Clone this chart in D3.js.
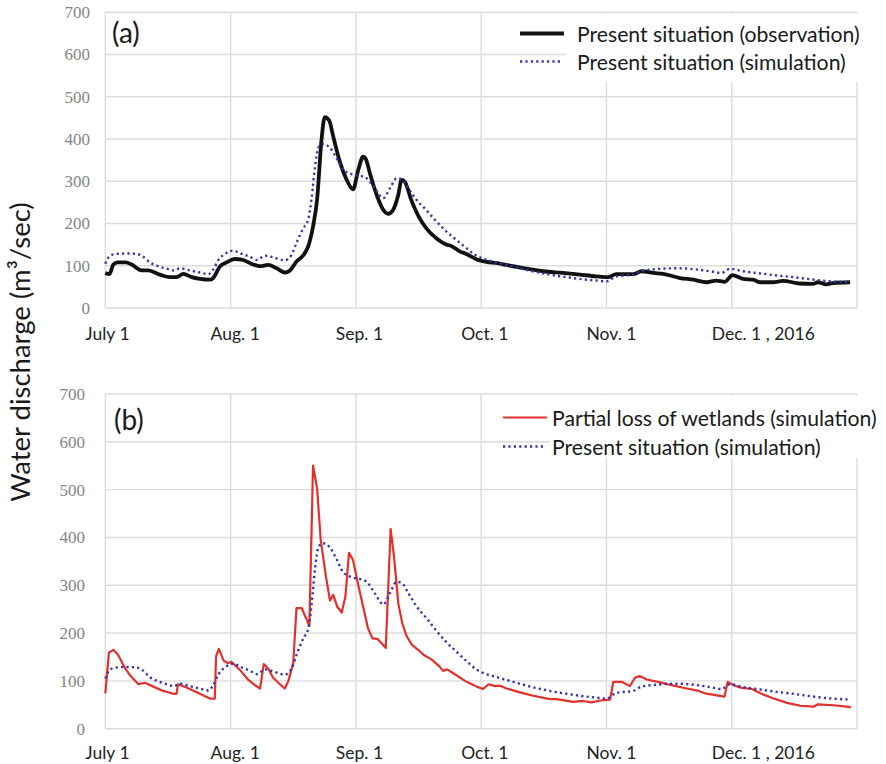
<!DOCTYPE html>
<html>
<head>
<meta charset="utf-8">
<script src="https://cdn.jsdelivr.net/npm/d3@7"></script>
<style>
  body { margin: 0; background: #fff; }
  svg { display: block; }
</style>
</head>
<body>
<div id="chart"></div>
<script>
// days counted from July 1, 2016
const tickDays = [0, 31, 62, 93, 124, 155];
const tickLabels = ["July 1", "Aug. 1", "Sep. 1", "Oct. 1", "Nov. 1", "Dec. 1 , 2016"];
const yTicks = [0, 100, 200, 300, 400, 500, 600, 700];

const obsDays = [0, 1, 2, 3, 5, 6.5, 9, 10.6, 13.5, 16, 17.6, 19.3, 21.4, 23.4, 25.9, 26.7, 28.4, 30, 32, 34,
  36.6, 38.3, 40.3, 42.4, 44.4, 45.7, 47.3, 49, 50.2, 51.4, 52.4, 53.5, 54.3, 55.4, 56.4, 58, 59.7, 61.3, 62.6, 63.8,
  64.5, 65.5, 66.7, 68.8, 70, 71.2, 72.5, 73.3, 74.1, 75.7, 77.8, 79.4, 81.9, 84.4, 85.6, 87.7, 89.3, 92.2, 94.3, 97.1,
  99.2, 102.5, 105, 108.3, 113.2, 117.4, 121.5, 124.5, 126.4, 130.6, 132.7, 135.6, 138, 142.2, 145.5, 148.8, 151.2, 153.3, 155.2, 157.8,
  160.3, 161.9, 165.2, 167.7, 171.8, 175.1, 176.3, 178.4, 180, 184.3];
const obsVals = [83, 80, 103, 108, 108, 103, 89, 89, 79, 73, 73, 81, 73, 69, 67, 71, 99, 108, 116, 114,
  103, 99, 102, 94, 84, 89, 110, 125, 146, 193, 256, 398, 452, 444, 406, 347, 304, 281, 327, 358,
  352, 318, 280, 232, 223, 232, 268, 303, 299, 256, 212, 189, 165, 150, 147, 134, 128, 114, 109, 106,
  102, 96, 92, 87, 83, 79, 75, 73, 80, 80, 87, 83, 81, 71, 67, 61, 65, 62, 78, 69,
  67, 61, 61, 64, 58, 57, 61, 56, 59, 61];

const simDays = [0, 1.2, 2.8, 5.3, 7.7, 9, 11, 13.1, 15.2, 17, 18.5, 20.9, 23.4, 25.5, 26.7, 28, 29.6, 31.7, 33.3, 35.8,
  37.6, 39.5, 41.5, 44.4, 46.1, 47.3, 49, 50.2, 51, 51.9, 52.7, 53.9, 55.6, 57.2, 58.9, 61.3, 63, 64.7, 66.7, 68.8,
  70.4, 72.1, 73.3, 75, 77, 79.4, 81.9, 84.4, 86.9, 89.3, 91.8, 94.3, 96.8, 100.1, 103.4, 106.7, 110, 114.1, 118.2, 121.5,
  124, 126.5, 130.6, 132.7, 136.4, 141.4, 145.5, 149.6, 152.5, 154.6, 157.8, 162, 166.1, 170.2, 174.4, 178.4, 184.2];
const simVals = [105, 124, 128, 129, 128, 124, 108, 99, 93, 89, 94, 89, 84, 80, 91, 114, 128, 136, 130, 121,
  114, 124, 120, 113, 126, 154, 189, 209, 256, 335, 379, 388, 379, 355, 327, 316, 313, 307, 283, 260,
  283, 307, 305, 283, 256, 232, 205, 181, 161, 142, 124, 114, 108, 100, 92, 85, 79, 73, 68, 65,
  63, 75, 79, 88, 92, 94, 92, 87, 83, 93, 87, 82, 77, 73, 68, 64, 61];

const lossDays = [0, 0.9, 2, 3.2, 4.9, 6.1, 8.2, 9.8, 11.9, 14.3, 16.8, 17.6, 18, 20.1, 22.6, 25.9, 27.1, 27.4, 28.1, 29.3,
  30.4, 31.2, 33.3, 35.4, 37, 38.3, 39.2, 40.3, 41.5, 43.2, 44.4, 45.3, 46.5, 47.3, 48.6, 50.5, 51.4, 52.4, 53.3, 54.6,
  55.6, 56.4, 57.4, 58.5, 59.4, 60.3, 61.3, 62.6, 63.8, 65, 66.1, 67.3, 68.3, 69.4, 70.6, 71.4, 72.5, 73.5, 74.5, 75.8,
  77.4, 78.8, 80.7, 82.6, 83.6, 84.6, 86.1, 89.4, 91.9, 93.5, 94.8, 96.4, 97.7, 99.3, 102.6, 105.9, 110, 111.7, 115.8, 118.3,
  120.3, 122.4, 124.9, 125.7, 127.8, 129.8, 131.1, 132.2, 134, 137.3, 140.6, 143.9, 146.8, 148.4, 153.2, 154, 155.5, 157.1, 160, 162.1,
  165.4, 168.7, 172, 175.3, 176.3, 180.2, 184.5];
const lossVals = [74, 159, 165, 154, 126, 112, 93, 96, 88, 79, 73, 73, 93, 86, 76, 63, 63, 151, 167, 142,
  137, 140, 123, 102, 91, 84, 135, 126, 107, 93, 84, 100, 137, 252, 252, 215, 550, 503, 395, 318,
  268, 280, 255, 243, 276, 368, 353, 300, 255, 210, 189, 188, 179, 169, 418, 363, 262, 220, 195, 176,
  165, 154, 145, 131, 121, 124, 116, 98, 88, 83, 93, 89, 90, 84, 76, 69, 62, 62, 56, 58,
  55, 59, 61, 98, 98, 89, 107, 110, 103, 97, 90, 84, 79, 74, 67, 98, 91, 86, 83, 74,
  63, 54, 48, 46, 51, 49, 45];

const width = 886, height = 764;
const plotLeft = 105.3, plotRight = 857;
const gridColor = "#dcdcdc";
const textFont = "Lato, 'Open Sans', sans-serif";

const svg = d3.select("#chart")
  .append("svg")
  .attr("width", width)
  .attr("height", height);

const x = d3.scaleLinear()
  .domain([0, 186])
  .range([plotLeft, plotRight]);

function toPoints(days, vals) {
  return days.map(function(d, i) { return {day: d, value: vals[i]}; });
}

function drawPanel(p) {
  const y = d3.scaleLinear().domain([0, 700]).range([p.bottom, p.top]);
  const g = svg.append("g");

  // grid
  g.append("g")
    .selectAll("line")
    .data(yTicks)
    .enter()
    .append("line")
    .attr("x1", plotLeft).attr("x2", plotRight)
    .attr("y1", function(d) { return y(d); })
    .attr("y2", function(d) { return y(d); })
    .style("stroke", gridColor).style("stroke-width", 1.4);

  g.append("g")
    .selectAll("line")
    .data(tickDays.concat([186]))
    .enter()
    .append("line")
    .attr("x1", function(d) { return x(d); })
    .attr("x2", function(d) { return x(d); })
    .attr("y1", p.top).attr("y2", p.bottom)
    .style("stroke", gridColor).style("stroke-width", 1.4);

  // y axis labels
  const yAxis = g.append("g")
    .attr("transform", "translate(" + p.yLabelRight + ",0)")
    .call(d3.axisLeft(y).tickValues(yTicks).tickSize(0).tickPadding(0));
  yAxis.select(".domain").remove();
  yAxis.selectAll("text")
    .style("font-family", "'Liberation Serif', 'DejaVu Serif', serif")
    .style("font-size", "17px")
    .style("fill", "#858585");

  // x labels
  g.append("g")
    .selectAll("text")
    .data(tickDays)
    .enter()
    .append("text")
    .attr("x", function(d) { return x(d) - 20; })
    .attr("y", p.xLabelY)
    .text(function(d, i) { return tickLabels[i]; })
    .style("font-family", textFont)
    .style("font-size", "17.5px")
    .style("fill", "#222");

  const line = d3.line()
    .x(function(d) { return x(d.day); })
    .y(function(d) { return y(d.value); });

  p.series.forEach(function(s) {
    g.append("path")
      .datum(toPoints(s.days, s.vals))
      .attr("d", line.curve(s.curve))
      .style("fill", "none")
      .style("stroke", s.color)
      .style("stroke-width", s.width)
      .style("stroke-dasharray", s.dash || null)
      .style("stroke-linejoin", "round");
  });

  // legend
  g.append("rect")
    .attr("x", p.legend.boxX).attr("y", p.top + 1.5)
    .attr("width", width - p.legend.boxX).attr("height", p.legend.boxBottom - p.top - 1.5)
    .style("fill", "#fff");

  p.series.forEach(function(s, i) {
    const ly = p.legend.y + i * p.legend.step;
    g.append("line")
      .attr("x1", p.legend.x1).attr("x2", p.legend.x2 - (s.dash ? 4 : 0))
      .attr("y1", ly).attr("y2", ly)
      .style("stroke", s.color)
      .style("stroke-width", s.width)
      .style("stroke-dasharray", s.dash || null);
    g.append("text")
      .attr("x", p.legend.tx)
      .attr("y", ly + 8)
      .text(s.name)
      .style("font-family", textFont)
      .style("font-size", "21.2px")
      .style("fill", "#1a1a1a");
  });

  g.append("text")
    .attr("x", p.tagX).attr("y", p.tagY)
    .text(p.tag)
    .style("font-family", textFont)
    .style("font-size", "28px")
    .style("fill", "#1a1a1a");
}

const simSeries = {name: "Present situation (simulation)", days: simDays, vals: simVals,
  color: "#3535a8", width: 2.4, dash: "2.2,3.2", curve: d3.curveMonotoneX};

drawPanel({
  top: 12.3, bottom: 308, yLabelRight: 90, xLabelY: 340, tag: "(a)", tagX: 112, tagY: 43,
  legend: {boxX: 566, boxBottom: 82, x1: 520, x2: 564, tx: 577, y: 33.5, step: 28},
  series: [
    {name: "Present situation (observation)", days: obsDays, vals: obsVals,
      color: "#111", width: 3.8, curve: d3.curveMonotoneX},
    simSeries
  ]
});

drawPanel({
  top: 394, bottom: 728.7, yLabelRight: 85, xLabelY: 759, tag: "(b)", tagX: 114, tagY: 430,
  legend: {boxX: 550, boxBottom: 458, x1: 503, x2: 547, tx: 552, y: 417.5, step: 29},
  series: [
    {name: "Partial loss of wetlands (simulation)", days: lossDays, vals: lossVals,
      color: "#e2312b", width: 2.2, curve: d3.curveLinear},
    simSeries
  ]
});

svg.append("text")
  .attr("transform", "translate(30,352) rotate(-90)")
  .attr("text-anchor", "middle")
  .text("Water discharge (m³/sec)")
  .style("font-family", textFont)
  .style("font-size", "27.5px")
  .style("fill", "#1a1a1a");
</script>
</body>
</html>
